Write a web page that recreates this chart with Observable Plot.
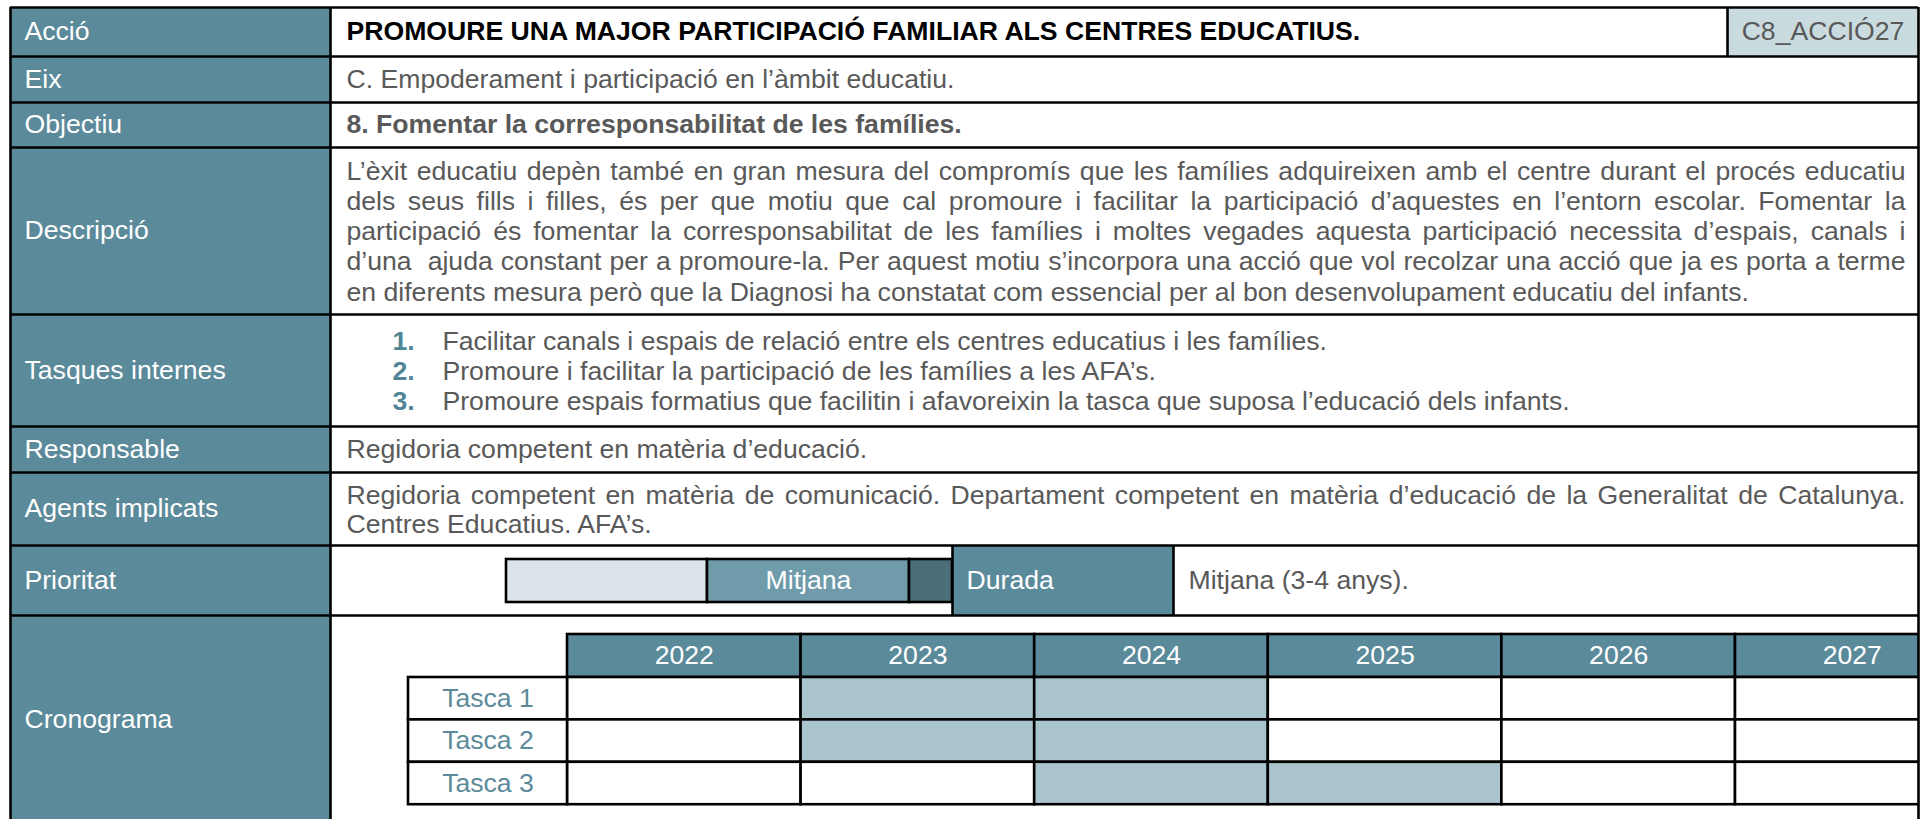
<!DOCTYPE html>
<html>
<head>
<meta charset="utf-8">
<script src="https://cdn.jsdelivr.net/npm/d3@7"></script>
<script src="https://cdn.jsdelivr.net/npm/@observablehq/plot@0.6"></script>
<style>
  html, body { margin: 0; padding: 0; background: #fff; }
  #chart { width: 1925px; height: 819px; overflow: hidden; }
</style>
</head>
<body>
<div id="chart"></div>
<script>
// ---------------- DATA ----------------
const labels = ["Acció", "Eix", "Objectiu", "Descripció", "Tasques internes", "Responsable", "Agents implicats", "Prioritat", "Cronograma"];
const accioTitle = "PROMOURE UNA MAJOR PARTICIPACIÓ FAMILIAR ALS CENTRES EDUCATIUS.";
const accioCode = "C8_ACCIÓ27";
const eixText = "C. Empoderament i participació en l’àmbit educatiu.";
const objectiuText = "8. Fomentar la corresponsabilitat de les famílies.";
const descripcioLines = [
  "L’èxit educatiu depèn també en gran mesura del compromís que les famílies adquireixen amb el centre durant el procés educatiu",
  "dels seus fills i filles, és per que motiu que cal promoure i facilitar la participació d’aquestes en l’entorn escolar. Fomentar la",
  "participació és fomentar la corresponsabilitat de les famílies i moltes vegades aquesta participació necessita d’espais, canals i",
  "d’una  ajuda constant per a promoure-la. Per aquest motiu s’incorpora una acció que vol recolzar una acció que ja es porta a terme",
  "en diferents mesura però que la Diagnosi ha constatat com essencial per al bon desenvolupament educatiu del infants."
];
const tasquesNums = ["1.", "2.", "3."];
const tasquesTexts = [
  "Facilitar canals i espais de relació entre els centres educatius i les famílies.",
  "Promoure i facilitar la participació de les famílies a les AFA’s.",
  "Promoure espais formatius que facilitin i afavoreixin la tasca que suposa l’educació dels infants."
];
const responsableText = "Regidoria competent en matèria d’educació.";
const agentsLines = [
  "Regidoria competent en matèria de comunicació. Departament competent en matèria d’educació de la Generalitat de Catalunya.",
  "Centres Educatius. AFA’s."
];
const prioritatLevels = ["Baixa", "Mitjana", "Alta"];
const prioritatValue = "Mitjana";
const duradaLabel = "Durada";
const duradaText = "Mitjana (3-4 anys).";
const years = [2022, 2023, 2024, 2025, 2026, 2027];
const tasks = ["Tasca 1", "Tasca 2", "Tasca 3"];
const schedule = [[2023, 2024], [2023, 2024], [2024, 2025]];

// ---------------- LAYOUT / STYLE ----------------
const W = 1925, H = 819;
const FONT = "'Liberation Sans', Arial, Helvetica, sans-serif";
const FS = 25;
const STRETCH = 1.065; // horizontal glyph stretch seen in the reference
const COL = {
  teal: "#5b8a9a", code: "#c9dbdf", text: "#595959", tasca: "#5b8a9a", num: "#4f8596",
  shade: "#a9c4cc", pLow: "#dce3e9", pMid: "#6f9bab", pHigh: "#4b6e78", line: "#000"
};
const T = { left: 10, split: 330, right: 1918, textX: 346, textR: 1905, codeX: 1727,
            rows: [7, 56, 102, 147, 314, 426, 472, 545, 615, 823] };
const PB = { x0: 506, segW: [201, 202, 43], y1: 559, y2: 602 };
const DUR = { x1: 952, x2: 1173, textX: 1188 };
const CR = { labelX: 408, gridX: 567, colW: 233.6, headY: 634, rowY: 677, rowH: 42.4 };
const LINE = { desc0: 171, descH: 30.3, tasq0: 341, tasqH: 30, numX: 392, tasqX: 442, agents0: 495, agentsH: 29 };
const SW = 2.6;

// measurement for justified text
const ctx = document.createElement("canvas").getContext("2d");
ctx.font = `${FS}px ${FONT}`;
function justify(line, x0, x1, y, isLast) {
  const words = line.split(" ");
  if (isLast || words.length < 2) return [{ x: x0, y, text: line }];
  const widths = words.map(w => ctx.measureText(w).width * STRETCH);
  const total = d3.sum(widths);
  const gap = (x1 - x0 - total) / (words.length - 1);
  let x = x0;
  return words.map((w, i) => { const r = { x, y, text: w }; x += widths[i] + gap; return r; });
}

// derived tables
const rowCells = labels.map((l, i) => ({ label: l, y1: T.rows[i], y2: T.rows[i + 1] }));
const descWords = descripcioLines.flatMap((l, i) =>
  justify(l, T.textX, T.textR, LINE.desc0 + i * LINE.descH, i === descripcioLines.length - 1)).filter(d => d.text !== "");
const agentsWords = agentsLines.flatMap((l, i) =>
  justify(l, T.textX, T.textR, LINE.agents0 + i * LINE.agentsH, i === agentsLines.length - 1)).filter(d => d.text !== "");
const singleTexts = [
  { text: eixText, y: (T.rows[1] + T.rows[2]) / 2 },
  { text: responsableText, y: (T.rows[5] + T.rows[6]) / 2 }
];
const tasqRows = tasquesTexts.map((t, i) => ({ num: tasquesNums[i], text: t, y: LINE.tasq0 + i * LINE.tasqH }));
let px = PB.x0;
const prioSegs = prioritatLevels.map((lev, i) => {
  const s = { level: lev, x1: px, x2: px + PB.segW[i], fill: [COL.pLow, COL.pMid, COL.pHigh][i] };
  px += PB.segW[i];
  return s;
});
const yearCells = years.map((yr, i) => ({ year: yr, x1: CR.gridX + i * CR.colW, x2: CR.gridX + (i + 1) * CR.colW }));
const taskCells = tasks.flatMap((t, r) => years.map((yr, i) => ({
  task: t, year: yr, on: schedule[r].includes(yr),
  x1: CR.gridX + i * CR.colW, x2: CR.gridX + (i + 1) * CR.colW,
  y1: CR.rowY + r * CR.rowH, y2: CR.rowY + (r + 1) * CR.rowH
})));
const taskLabels = tasks.map((t, r) => ({ task: t, y1: CR.rowY + r * CR.rowH, y2: CR.rowY + (r + 1) * CR.rowH }));
const hLines = T.rows.slice(0, -1).map(y => ({ y }));
const vLines = [
  { x: T.left, y1: T.rows[0], y2: H + 5 },
  { x: T.split, y1: T.rows[0], y2: H + 5 },
  { x: T.right, y1: T.rows[0], y2: H + 5 },
  { x: T.codeX, y1: T.rows[0], y2: T.rows[1] },
  { x: DUR.x1, y1: T.rows[7], y2: T.rows[8] },
  { x: DUR.x2, y1: T.rows[7], y2: T.rows[8] }
];

const txt = { fontSize: FS, textAnchor: "start", lineAnchor: "middle" };

const chart = Plot.plot({
  width: W, height: H,
  marginLeft: 0, marginTop: 0, marginBottom: 0, marginRight: W - T.right,
  x: { type: "identity" },
  y: { type: "identity" },
  style: { fontFamily: FONT, background: "#fff" },
  marks: [
    // label column
    Plot.rect(rowCells, { x1: () => T.left, x2: () => T.split, y1: "y1", y2: "y2", fill: COL.teal }),
    Plot.text(rowCells, { ...txt, x: () => T.left + 14, y: d => (d.y1 + d.y2) / 2, text: "label", fill: "#fff" }),
    // code cell
    Plot.rect([accioCode], { x1: () => T.codeX, x2: () => T.right, y1: () => T.rows[0], y2: () => T.rows[1], fill: COL.code }),
    Plot.text([accioCode], { ...txt, textAnchor: "middle", x: () => (T.codeX + T.right) / 2, y: () => (T.rows[0] + T.rows[1]) / 2, text: d => d, fill: COL.text }),
    // title
    Plot.text([accioTitle], { ...txt, x: () => T.textX, y: () => (T.rows[0] + T.rows[1]) / 2, text: d => d, fill: "#000", fontWeight: "bold" }),
    // objectiu
    Plot.text([objectiuText], { ...txt, x: () => T.textX, y: () => (T.rows[2] + T.rows[3]) / 2, text: d => d, fill: COL.text, fontWeight: "bold" }),
    // eix / responsable
    Plot.text(singleTexts, { ...txt, x: () => T.textX, y: "y", text: "text", fill: COL.text }),
    // descripcio & agents (justified)
    Plot.text(descWords, { ...txt, x: "x", y: "y", text: "text", fill: COL.text }),
    Plot.text(agentsWords, { ...txt, x: "x", y: "y", text: "text", fill: COL.text }),
    // tasques
    Plot.text(tasqRows, { ...txt, x: () => LINE.numX, y: "y", text: "num", fill: COL.num, fontWeight: "bold" }),
    Plot.text(tasqRows, { ...txt, x: () => LINE.tasqX, y: "y", text: "text", fill: COL.text }),
    // prioritat bar
    Plot.rect(prioSegs, { x1: "x1", x2: "x2", y1: () => PB.y1, y2: () => PB.y2, fill: "fill", stroke: COL.line, strokeWidth: SW }),
    Plot.text(prioSegs.filter(d => d.level === prioritatValue), { ...txt, textAnchor: "middle", x: d => (d.x1 + d.x2) / 2, y: () => (PB.y1 + PB.y2) / 2, text: "level", fill: "#fff" }),
    // durada
    Plot.rect([duradaLabel], { x1: () => DUR.x1, x2: () => DUR.x2, y1: () => T.rows[7], y2: () => T.rows[8], fill: COL.teal }),
    Plot.text([duradaLabel], { ...txt, x: () => DUR.x1 + 14, y: () => (T.rows[7] + T.rows[8]) / 2, text: d => d, fill: "#fff" }),
    Plot.text([duradaText], { ...txt, x: () => DUR.textX, y: () => (T.rows[7] + T.rows[8]) / 2, text: d => d, fill: COL.text }),
    // cronograma
    Plot.rect(yearCells, { x1: "x1", x2: "x2", y1: () => CR.headY, y2: () => CR.rowY, fill: COL.teal, stroke: COL.line, strokeWidth: SW, clip: "frame" }),
    Plot.text(yearCells, { ...txt, textAnchor: "middle", x: d => (d.x1 + d.x2) / 2, y: () => (CR.headY + CR.rowY) / 2, text: d => String(d.year), fill: "#fff" }),
    Plot.rect(taskCells, { x1: "x1", x2: "x2", y1: "y1", y2: "y2", fill: d => d.on ? COL.shade : "#fff", stroke: COL.line, strokeWidth: SW, clip: "frame" }),
    Plot.rect(taskLabels, { x1: () => CR.labelX, x2: () => CR.gridX, y1: "y1", y2: "y2", fill: "#fff", stroke: COL.line, strokeWidth: SW }),
    Plot.text(taskLabels, { ...txt, textAnchor: "middle", x: () => (CR.labelX + CR.gridX) / 2, y: d => (d.y1 + d.y2) / 2, text: "task", fill: COL.tasca }),
    // table lines
    Plot.ruleY(hLines, { y: "y", x1: () => T.left, x2: () => T.right, stroke: COL.line, strokeWidth: SW }),
    Plot.ruleX(vLines, { x: "x", y1: "y1", y2: "y2", stroke: COL.line, strokeWidth: SW })
  ]
});

// apply the horizontal glyph stretch about each text's anchor point
d3.select(chart).selectAll("text").each(function () {
  const el = d3.select(this);
  const tr = el.attr("transform");
  if (tr) {
    el.attr("transform", `${tr} scale(${STRETCH},1)`);
  } else {
    const x = parseFloat(el.attr("x")) || 0;
    el.attr("x", null).attr("transform", `translate(${x},0) scale(${STRETCH},1)`);
  }
});
document.getElementById("chart").appendChild(chart);
</script>
</body>
</html>
